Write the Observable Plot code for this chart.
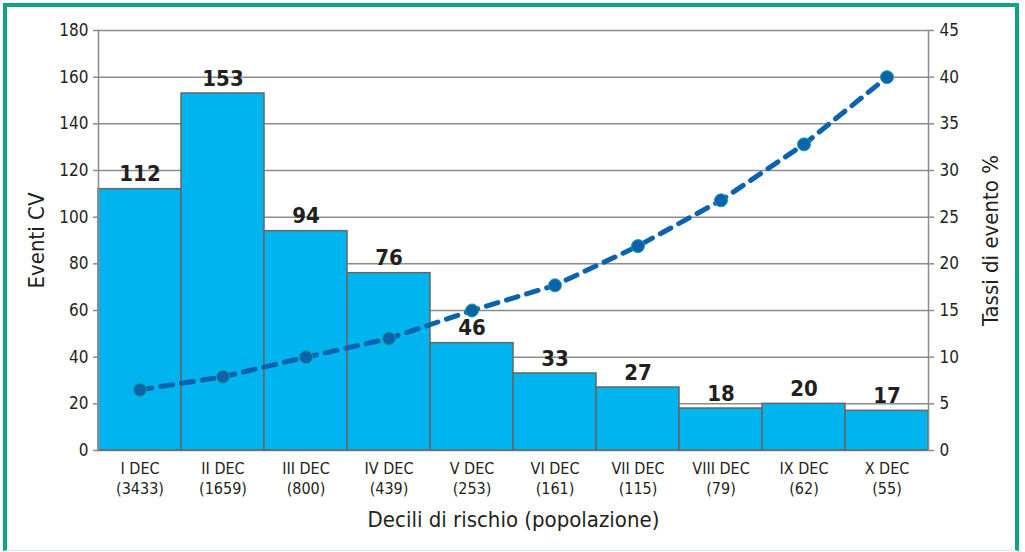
<!DOCTYPE html>
<html>
<head>
<meta charset="utf-8">
<script src="https://cdn.jsdelivr.net/npm/d3@7"></script>
<script src="https://cdn.jsdelivr.net/npm/@observablehq/plot@0.6"></script>
<style>
  html, body { margin: 0; padding: 0; background: #fff; }
  #wrap { position: relative; width: 1025px; height: 552px; overflow: hidden; }
  #border { position: absolute; left: 3px; top: 3px; width: 1016px; height: 548px;
            border-left: 4px solid #0ca386; border-top: 4px solid #0ca386; border-right: 4px solid #0ca386;
            border-bottom: 1px solid #dcebe7; box-sizing: border-box; pointer-events: none; }
  #chart { position: absolute; left: 0; top: 0; }
</style>
</head>
<body>
<div id="wrap"><div id="chart"></div><div id="border"></div></div>
<script>
const categories = ["I DEC", "II DEC", "III DEC", "IV DEC", "V DEC", "VI DEC", "VII DEC", "VIII DEC", "IX DEC", "X DEC"];
const populations = [3433, 1659, 800, 439, 253, 161, 115, 79, 62, 55];
const events = [112, 153, 94, 76, 46, 33, 27, 18, 20, 17];
const rates = [6.5, 7.9, 10.0, 12.0, 15.0, 17.7, 21.9, 26.8, 32.8, 40.0];
const leftTicks = [0, 20, 40, 60, 80, 100, 120, 140, 160, 180];
const rightTicks = [0, 5, 10, 15, 20, 25, 30, 35, 40, 45];

const ratio = 180 / 45;
const data = categories.map((c, i) => ({cat: c, pop: populations[i], events: events[i], rate: rates[i]}));
const popByCat = new Map(data.map(d => [d.cat, d.pop]));

const font = "'Liberation Sans Narrow', 'Arial Narrow', 'DejaVu Sans Condensed', sans-serif";
const ink = "#231f20";
const gray = "#8c8c8c";

const chart = Plot.plot({
  width: 1025,
  height: 552,
  marginLeft: 98,
  marginRight: 97,
  marginTop: 30,
  marginBottom: 102,
  style: {fontFamily: font, fontSize: "16px", color: ink, background: "transparent"},
  x: {domain: categories, padding: 0, axis: null},
  y: {domain: [0, 180], axis: null},
  marks: [
    Plot.gridY(leftTicks, {stroke: gray, strokeOpacity: 1, strokeWidth: 1.5}),
    Plot.barY(data, {x: "cat", y: "events", fill: "#00b5ef", stroke: "#666666", strokeWidth: 1.5}),
    Plot.frame({anchor: "left", stroke: gray, strokeWidth: 1.5}),
    Plot.frame({anchor: "right", stroke: gray, strokeWidth: 1.5}),
    Plot.axisY(leftTicks, {anchor: "left", tickSize: 5, tickPadding: 5, fontSize: 17, stroke: gray, strokeWidth: 1.5, fill: ink, label: null}),
    Plot.axisY(rightTicks.map(t => t * ratio), {anchor: "right", tickSize: 5, tickPadding: 6, fontSize: 17, stroke: gray, strokeWidth: 1.5, fill: ink, tickFormat: d => String(d / ratio), label: null}),
    Plot.axisX({anchor: "bottom", tickSize: 0, tickPadding: 10, fontSize: 16, lineHeight: 1.22, fill: ink, label: null,
      tickFormat: d => `${d}\n(${popByCat.get(d)})`}),
    Plot.line(data, {x: "cat", y: d => d.rate * ratio, stroke: "#0b63b0", strokeWidth: 5, strokeDasharray: "12,9"}),
    Plot.dot(data, {x: "cat", y: d => d.rate * ratio, r: 6.5, fill: "#0b63b0", stroke: "#1aa58b", strokeWidth: 1}),
    Plot.text(data, {x: "cat", y: "events", text: d => String(d.events), dy: -8, lineAnchor: "bottom", fontSize: 22, fontWeight: "bold", fill: ink}),
    Plot.text(["Eventi CV"], {frameAnchor: "left", dx: -62, rotate: -90, textAnchor: "middle", fontSize: 22, fill: ink}),
    Plot.text(["Tassi di evento %"], {frameAnchor: "right", dx: 62, rotate: -90, textAnchor: "middle", fontSize: 22, fill: ink}),
    Plot.text(["Decili di rischio (popolazione)"], {frameAnchor: "bottom", dy: 76, fontSize: 22, fill: ink})
  ]
});
document.getElementById("chart").appendChild(chart);
</script>
</body>
</html>
